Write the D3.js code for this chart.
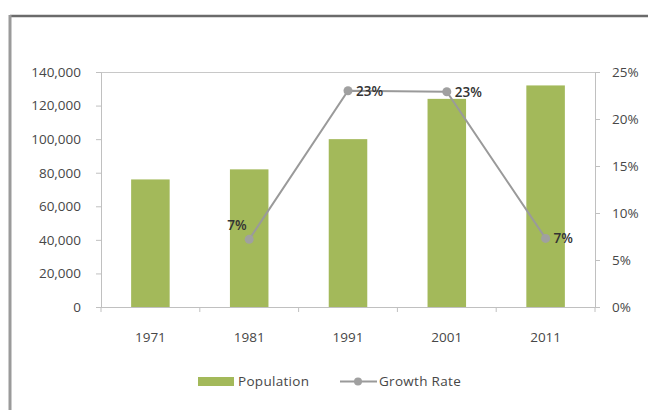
<!DOCTYPE html>
<html>
<head>
<meta charset="utf-8">
<script src="https://cdn.jsdelivr.net/npm/d3@7"></script>
<style>
  html, body { margin: 0; padding: 0; background: #fff; }
  svg { display: block; }
  text { font-family: "Open Sans", "Liberation Sans", sans-serif; }
</style>
</head>
<body>
<svg id="chart" width="648" height="410"></svg>
<script>
const years = ["1971", "1981", "1991", "2001", "2011"];
const population = [76000, 82000, 100000, 124000, 132000];
const growthYears = ["1981", "1991", "2001", "2011"];
const growthRate = [0.072, 0.23, 0.229, 0.073];
const growthLabels = ["7%", "23%", "23%", "7%"];
const leftTicks = [0, 20000, 40000, 60000, 80000, 100000, 120000, 140000];
const rightTicks = [0, 0.05, 0.10, 0.15, 0.20, 0.25];

(function () {
const svg = d3.select("#chart");
const pL = 101, pR = 595, pT = 72, pB = 307;
const fs = "13.5px";

const x = d3.scaleBand().domain(years).range([pL, pR]).paddingInner(0.61).paddingOuter(0.305);
const yL = d3.scaleLinear().domain([0, 140000]).range([pB, pT]);
const yR = d3.scaleLinear().domain([0, 0.25]).range([pB, pT]);
const cx = d => x(d) + x.bandwidth() / 2;

// frame
svg.append("line").attr("x1", 10).attr("x2", 648).attr("y1", 16).attr("y2", 16)
  .attr("stroke", "#6b6b6b").attr("stroke-width", 2.5);
svg.append("line").attr("x1", 10).attr("x2", 10).attr("y1", 15).attr("y2", 410)
  .attr("stroke", "#9a9a9a").attr("stroke-width", 3);

// top border of plot area
svg.append("line").attr("x1", pL - 5).attr("x2", pR + 5).attr("y1", pT + 0.5).attr("y2", pT + 0.5)
  .attr("stroke", "#c8c8c8").attr("stroke-width", 1);

// bars
svg.append("g").selectAll("rect").data(years).join("rect")
  .attr("x", d => x(d))
  .attr("width", x.bandwidth())
  .attr("y", (d, i) => yL(population[i]))
  .attr("height", (d, i) => pB - yL(population[i]))
  .attr("fill", "#a3b95a");

const axisStyle = g => {
  g.selectAll(".domain").attr("stroke", "#c0c0c0");
  g.selectAll(".tick line").attr("stroke", "#c0c0c0");
  g.selectAll("text").attr("fill", "#474747").style("font-size", fs)
    .style("font-family", "'Open Sans', sans-serif");
};

// left axis
svg.append("g").attr("transform", `translate(${pL},0)`)
  .call(d3.axisLeft(yL).tickValues(leftTicks).tickFormat(d3.format(",")).tickSize(5).tickSizeOuter(0).tickPadding(15))
  .call(axisStyle);

// right axis
svg.append("g").attr("transform", `translate(${pR},0)`)
  .call(d3.axisRight(yR).tickValues(rightTicks).tickFormat(d3.format(".0%")).tickSize(5).tickSizeOuter(0).tickPadding(12))
  .call(axisStyle);

// bottom axis
const xb = svg.append("g").attr("transform", `translate(0,${pB})`)
  .call(d3.axisBottom(x).tickSize(0).tickPadding(25))
  .call(axisStyle);
xb.select(".domain").attr("d", `M${pL - 5},0.5H${pR + 5}`);
const step = x.step();
xb.selectAll(".bound").data(d3.range(years.length + 1)).join("line")
  .attr("class", "bound")
  .attr("x1", i => pL + i * step).attr("x2", i => pL + i * step)
  .attr("y1", 0).attr("y2", 5).attr("stroke", "#c0c0c0");

// growth line
const line = d3.line().x((d, i) => cx(growthYears[i])).y(d => yR(d));
svg.append("path").datum(growthRate).attr("d", line)
  .attr("fill", "none").attr("stroke", "#9a9a9a").attr("stroke-width", 2);
svg.append("g").selectAll("circle").data(growthRate).join("circle")
  .attr("cx", (d, i) => cx(growthYears[i])).attr("cy", d => yR(d)).attr("r", 4.5)
  .attr("fill", "#a0a0a0");

// data labels
const lblDx = [-22, 8, 8, 8];
const lblDy = [-9, 5, 5, 5];
svg.append("g").selectAll("text").data(growthRate).join("text")
  .attr("x", (d, i) => cx(growthYears[i]) + lblDx[i])
  .attr("y", (d, i) => yR(d) + lblDy[i])
  .attr("fill", "#333").style("font-size", fs).style("font-weight", "600")
  .text((d, i) => growthLabels[i]);

// legend
const lg = svg.append("g");
lg.append("rect").attr("x", 198).attr("y", 377).attr("width", 36).attr("height", 9).attr("fill", "#a3b95a");
lg.append("text").attr("x", 238).attr("y", 386).attr("fill", "#474747").style("font-size", fs)
  .style("letter-spacing", "0.3px").text("Population");
lg.append("line").attr("x1", 340).attr("x2", 377).attr("y1", 381.5).attr("y2", 381.5)
  .attr("stroke", "#9a9a9a").attr("stroke-width", 2);
lg.append("circle").attr("cx", 358).attr("cy", 381.5).attr("r", 4).attr("fill", "#a0a0a0");
lg.append("text").attr("x", 379).attr("y", 386).attr("fill", "#474747").style("font-size", fs)
  .style("letter-spacing", "0.3px").text("Growth Rate");
})();
</script>
</body>
</html>
